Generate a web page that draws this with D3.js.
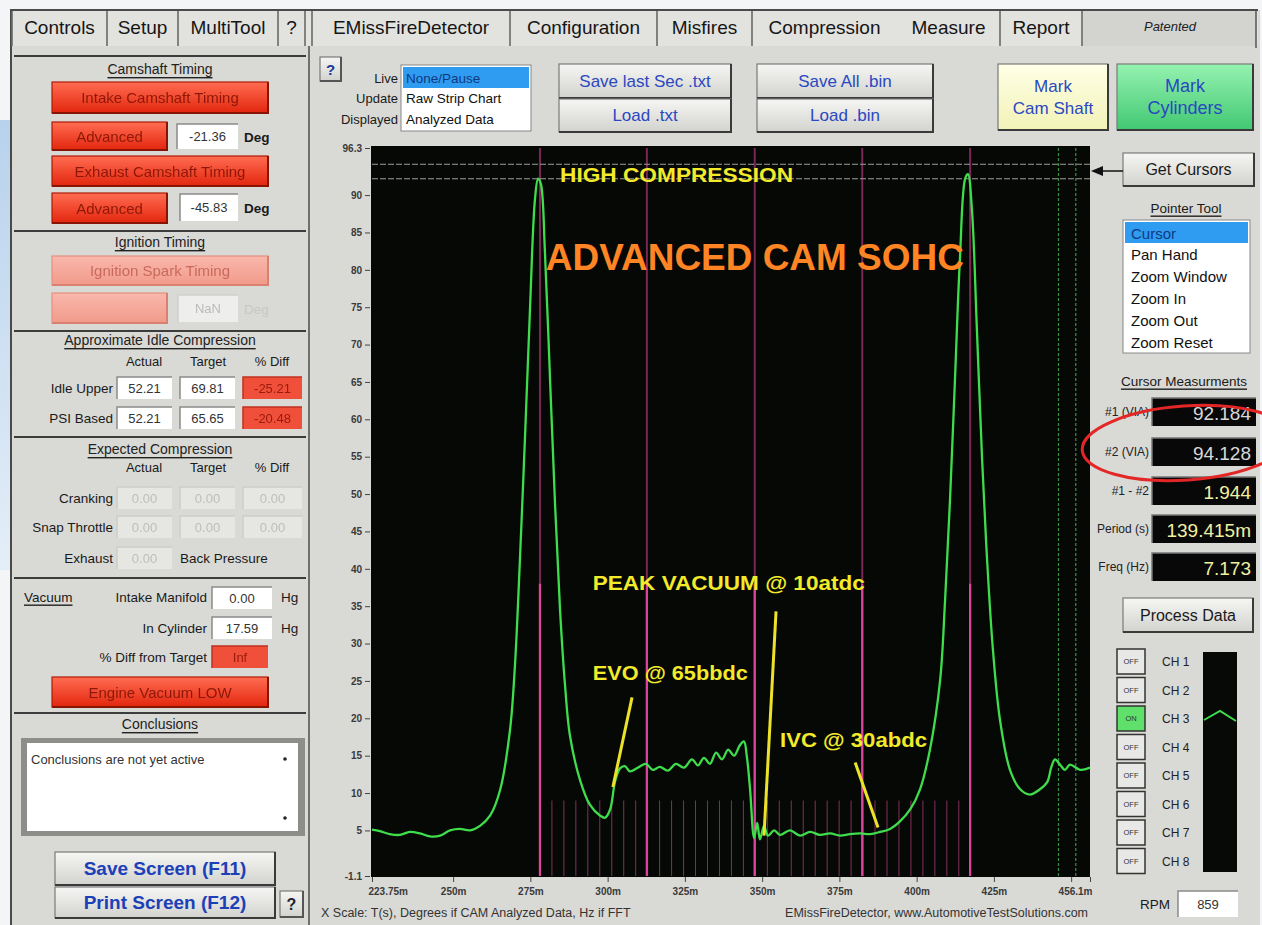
<!DOCTYPE html>
<html lang="en">
<head>
<meta charset="utf-8">
<title>EMissFireDetector - Measure</title>
<script src="https://d3js.org/d3.v7.min.js"></script>
<style>
  body { margin: 0; background: #f4f5f7; overflow: hidden; }
  svg { display: block; font-family: 'Liberation Sans', Arial, sans-serif; }
</style>
</head>
<body>
<svg id="screen" width="1262" height="925"></svg>
<script>
// ---------- data ----------
var tabsLeft = ["Controls", "Setup", "MultiTool", "?"];
var tabsRight = ["EMissFireDetector", "Configuration", "Misfires", "Compression", "Measure", "Report"];

var yTicks = [5, 10, 15, 20, 25, 30, 35, 40, 45, 50, 55, 60, 65, 70, 75, 80, 85, 90];
var yMin = -1.1, yMax = 96.3;
var xTicks = [250, 275, 300, 325, 350, 375, 400, 425, 450];
var xMin = 223.75, xMax = 456.1;

// pressure trace: time (ms) and value (psi)
var traceTime = [223.75, 226.3, 229.5, 232.8, 236.0, 239.3, 242.5, 245.8, 249.0, 252.2, 255.5, 258.7,
  262.0, 265.2, 268.4, 270.0, 271.6, 273.3, 274.9, 276.5, 277.5, 278.4, 279.7, 281.4, 283.0, 284.6,
  286.2, 287.8, 291.1, 294.3, 297.5, 299.2, 300.8, 302.4, 304.0, 305.6, 307.2, 309.8, 312.4, 314.6,
  316.9, 319.5, 322.1, 324.7, 327.3, 329.2, 331.2, 333.1, 335.1, 337.0, 339.0, 340.9, 342.8, 344.1,
  345.1, 346.1, 347.4, 348.4, 349.3, 350.6, 351.9, 353.9, 355.8, 359.0, 362.3, 365.5, 368.7, 372.0,
  375.2, 378.4, 381.7, 385.0, 388.2, 391.4, 394.6, 397.9, 401.1, 404.3, 407.6, 409.2, 410.8, 412.4,
  414.0, 415.7, 416.6, 417.9, 419.5, 421.2, 422.8, 424.7, 427.0, 430.2, 433.5, 436.7, 439.9, 442.3,
  443.6, 444.8, 446.4, 448.0, 449.6, 452.9, 456.1];
var tracePsi = [5.1, 4.9, 4.5, 4.4, 4.8, 4.6, 4.2, 4.3, 5.0, 5.2, 5.0, 5.6,
  7.0, 10.4, 18.4, 27.0, 41.0, 58.0, 75.0, 89.5, 92.2, 91.5, 82.5, 65.0, 48.5, 34.5,
  24.5, 17.7, 11.7, 8.4, 7.0, 6.7, 7.8, 11.5, 13.3, 13.6, 12.9, 13.4, 13.9, 13.1,
  13.5, 13.0, 13.9, 13.4, 14.5, 13.7, 14.7, 13.9, 15.4, 14.5, 15.8, 15.0, 16.4, 16.9,
  14.7, 10.5, 4.0, 6.0, 3.8, 5.6, 4.3, 5.0, 4.4, 5.0, 4.3, 4.8, 4.4, 4.6,
  4.3, 4.5, 4.6, 4.5, 4.8, 5.2, 6.2, 7.8, 10.5, 15.8, 25.1, 35.8, 49.2, 65.3,
  81.4, 92.2, 92.8, 88.0, 72.0, 54.5, 41.2, 29.1, 19.7, 13.1, 10.5, 9.8, 10.5, 11.5,
  13.5, 14.5, 13.8, 13.1, 13.8, 13.1, 13.4];

var cylinderMarks = [278.1, 312.7, 347.6, 382.4, 417.3];   // ms
var cyclePeriod = 139.415;                                  // ms per 720 deg
var degreeStep = 20;                                        // crank degrees between minor marks
var cursorLevels = [92.184, 94.128];
var cursorTimes = [445.9, 451.5];

var annotations = [
  { text: "HIGH COMPRESSION", t: 284.6, v: 92.7, kind: "small" },
  { text: "ADVANCED CAM SOHC", t: 280.0, v: 81.6, kind: "title" },
  { text: "PEAK VACUUM @ 10atdc", t: 295.2, v: 38.1, kind: "small" },
  { text: "EVO @ 65bbdc", t: 295.2, v: 26.1, kind: "small" },
  { text: "IVC @ 30abdc", t: 355.8, v: 17.1, kind: "small" }
];
var annotationWidths = [233, 418, 272, 155, 147];
// pointer lines: [t1, v1, t2, v2]
var pointers = [[307.9, 22.8, 301.7, 10.8], [354.5, 34.3, 350.6, 4.3], [380.1, 14.1, 387.5, 5.4]];

var liveModes = ["None/Pause", "Raw Strip Chart", "Analyzed Data"];
var pointerTools = ["Cursor", "Pan Hand", "Zoom Window", "Zoom In", "Zoom Out", "Zoom Reset"];
var measLabels = ["#1 (VIA)", "#2 (VIA)", "#1 - #2", "Period (s)", "Freq (Hz)"];
var measValues = ["92.184", "94.128", "1.944", "139.415m", "7.173"];
var channels = ["CH 1", "CH 2", "CH 3", "CH 4", "CH 5", "CH 6", "CH 7", "CH 8"];
var channelOn = [false, false, true, false, false, false, false, false];

var idleRows = ["Idle Upper", "PSI Based"];
var idleActual = ["52.21", "52.21"];
var idleTarget = ["69.81", "65.65"];
var idleDiff = ["-25.21", "-20.48"];
var expectedRows = ["Cranking", "Snap Throttle"];

// ---------- helpers ----------
var svg = d3.select("#screen");
var defs = svg.append("defs");

function grad(id, top, bottom) {
  var g = defs.append("linearGradient").attr("id", id)
    .attr("x1", 0).attr("y1", 0).attr("x2", 0).attr("y2", 1);
  g.append("stop").attr("offset", "0%").attr("stop-color", top);
  g.append("stop").attr("offset", "100%").attr("stop-color", bottom);
}
grad("btnGray", "#f6f6f4", "#d2d2ce");
grad("btnRed", "#ff6d52", "#e3260e");
grad("btnPink", "#f9b8ac", "#f19a8a");
grad("btnYellow", "#ffffe6", "#f2f2b8");
grad("btnGreen", "#95f2b0", "#41c872");
grad("desk", "#b8d2ec", "#e4eef8");
defs.append("filter").attr("id", "soft")
  .append("feGaussianBlur").attr("stdDeviation", 0.7);

function txt(parent, x, y, s, o) {
  o = o || {};
  return parent.append("text").attr("x", x).attr("y", y)
    .attr("text-anchor", o.anchor || "start")
    .attr("dominant-baseline", "central")
    .attr("font-size", o.size || 13.5)
    .attr("font-weight", o.weight || "normal")
    .attr("font-style", o.style || "normal")
    .attr("fill", o.color || "#1a1a1a")
    .attr("opacity", o.opacity == null ? 1 : o.opacity)
    .attr("text-decoration", o.underline ? "underline" : null)
    .attr("filter", o.blur ? "url(#soft)" : null)
    .text(s);
}

function button(x, y, w, h, label, o) {
  o = o || {};
  var g = svg.append("g");
  g.append("rect").attr("x", x).attr("y", y).attr("width", w).attr("height", h)
    .attr("fill", "url(#" + (o.fill || "btnGray") + ")")
    .attr("stroke", o.stroke || "#7a7a7a").attr("stroke-width", 1.2);
  g.append("path").attr("d", "M" + (x + w) + "," + y + "V" + (y + h) + "H" + x)
    .attr("fill", "none").attr("stroke", o.edge || "#3a3a3a").attr("stroke-width", 2);
  var lines = label.split("\n");
  lines.forEach(function(t, i) {
    txt(g, x + w / 2, y + h / 2 + (i - (lines.length - 1) / 2) * (o.lh || 21), t, {
      anchor: "middle", size: o.size || 16, weight: o.weight, color: o.color || "#1a1a1a",
      blur: o.blur, opacity: o.opacity
    });
  });
  return g;
}

function field(x, y, w, h, val, o) {
  o = o || {};
  var g = svg.append("g");
  g.append("rect").attr("x", x).attr("y", y).attr("width", w).attr("height", h)
    .attr("fill", o.fill || "#ffffff");
  g.append("path").attr("d", "M" + x + "," + (y + h) + "V" + y + "H" + (x + w))
    .attr("fill", "none").attr("stroke", o.edge || "#8a8a8a").attr("stroke-width", 1.5);
  txt(g, x + w / 2, y + h / 2, val, {
    anchor: "middle", size: o.size || 13, color: o.color || "#333", blur: o.blur, opacity: o.opacity
  });
  return g;
}

function sep(x1, x2, y) {
  svg.append("line").attr("x1", x1).attr("x2", x2).attr("y1", y).attr("y2", y)
    .attr("stroke", "#3c3c3c").attr("stroke-width", 2);
}

// ---------- window frame ----------
svg.append("rect").attr("x", 0).attr("y", 120).attr("width", 11).attr("height", 450).attr("fill", "url(#desk)");
svg.append("rect").attr("x", 10).attr("y", 10).attr("width", 1250).attr("height", 915).attr("fill", "#d9d9d5");
svg.append("rect").attr("x", 10).attr("y", 10).attr("width", 1248).attr("height", 36).attr("fill", "#e2e2df");
svg.append("rect").attr("x", 1082).attr("y", 10).attr("width", 174).attr("height", 36).attr("fill", "#d3d3cf");
svg.append("line").attr("x1", 10).attr("x2", 1258).attr("y1", 10).attr("y2", 10).attr("stroke", "#4a4a4a").attr("stroke-width", 2);
svg.append("line").attr("x1", 11).attr("x2", 11).attr("y1", 10).attr("y2", 925).attr("stroke", "#4a4a4a").attr("stroke-width", 2);
svg.append("line").attr("x1", 1256).attr("x2", 1256).attr("y1", 10).attr("y2", 48).attr("stroke", "#555").attr("stroke-width", 1.5);

// tabs
var tabEdgesLeft = [12, 107, 178, 278, 305];
var tabEdgesRight = [312, 510, 657, 752, 897, 1000, 1082];
function drawTabs(names, edges) {
  names.forEach(function(n, i) {
    txt(svg, (edges[i] + edges[i + 1]) / 2, 27, n, { anchor: "middle", size: 19, color: "#151515" });
  });
  edges.forEach(function(e) {
    if (e === 897) return;
    svg.append("line").attr("x1", e).attr("x2", e).attr("y1", 11).attr("y2", 46)
      .attr("stroke", "#6a6a6a").attr("stroke-width", 1.6);
  });
}
drawTabs(tabsLeft, tabEdgesLeft);
drawTabs(tabsRight, tabEdgesRight);
txt(svg, 1170, 26, "Patented", { anchor: "middle", size: 13, style: "italic", color: "#222" });

// ---------- left panel ----------
svg.append("line").attr("x1", 309).attr("x2", 309).attr("y1", 46).attr("y2", 925).attr("stroke", "#555").attr("stroke-width", 1.6);
[56, 231, 331, 437, 578, 713].forEach(function(y) { sep(14, 306, y); });

var head = { anchor: "middle", size: 14, underline: true, color: "#222" };
txt(svg, 160, 69, "Camshaft Timing", head);
txt(svg, 160, 242, "Ignition Timing", head);
txt(svg, 160, 340, "Approximate Idle Compression", head);
txt(svg, 160, 449, "Expected Compression", head);
txt(svg, 160, 724, "Conclusions", head);

var redText = { fill: "btnRed", stroke: "#b01a06", edge: "#8a1404", color: "#8e1808", blur: true, size: 15 };
button(52, 82, 216, 31, "Intake Camshaft Timing", redText);
button(52, 122, 115, 28, "Advanced", redText);
button(52, 156, 216, 30, "Exhaust Camshaft Timing", redText);
button(52, 193, 115, 30, "Advanced", redText);
field(177, 124, 61, 25, "-21.36");
field(180, 194, 58, 27, "-45.83");
txt(svg, 244, 137, "Deg", { size: 13.5, weight: "bold" });
txt(svg, 244, 208, "Deg", { size: 13.5, weight: "bold" });

var pinkText = { fill: "btnPink", stroke: "#e59080", edge: "#d98070", color: "#c96a5c", blur: true, size: 15 };
button(52, 256, 216, 29, "Ignition Spark Timing", pinkText);
button(52, 293, 115, 30, "", pinkText);
field(178, 295, 60, 27, "NaN", { fill: "#eeeeec", edge: "#cfcfcc", color: "#bbb", blur: true });
txt(svg, 244, 309, "Deg", { size: 13.5, color: "#c8c8c8" });

// idle compression
var colX = [144, 208, 272];
["Actual", "Target", "% Diff"].forEach(function(h, i) {
  txt(svg, colX[i], 361, h, { anchor: "middle", size: 13 });
  txt(svg, colX[i], 467, h, { anchor: "middle", size: 13 });
});
idleRows.forEach(function(r, i) {
  var y = 377 + i * 30;
  txt(svg, 113, y + 11, r, { anchor: "end", size: 13.5 });
  field(117, y, 55, 22, idleActual[i]);
  field(180, y, 55, 22, idleTarget[i]);
  field(243, y, 59, 22, idleDiff[i], { fill: "#f0503a", edge: "#c03020", color: "#9a1a0c", blur: true });
});
expectedRows.forEach(function(r, i) {
  var y = 487 + i * 29;
  txt(svg, 113, y + 11, r, { anchor: "end", size: 13.5 });
  [117, 180, 243].forEach(function(x) {
    field(x, y, x === 243 ? 59 : 55, 22, "0.00", { fill: "#e6e6e3", edge: "#cdcdca", color: "#bdbdbd", blur: true });
  });
});
txt(svg, 113, 558, "Exhaust", { anchor: "end", size: 13.5 });
field(117, 547, 55, 22, "0.00", { fill: "#e6e6e3", edge: "#cdcdca", color: "#bdbdbd", blur: true });
txt(svg, 180, 558, "Back Pressure", { size: 13.5 });

// vacuum
txt(svg, 24, 597, "Vacuum", { size: 13.5, underline: true });
txt(svg, 207, 597, "Intake Manifold", { anchor: "end", size: 13.5 });
field(212, 587, 60, 22, "0.00");
txt(svg, 281, 597, "Hg", { size: 13.5 });
txt(svg, 207, 628, "In Cylinder", { anchor: "end", size: 13.5 });
field(212, 617, 60, 22, "17.59");
txt(svg, 281, 628, "Hg", { size: 13.5 });
txt(svg, 207, 657, "% Diff from Target", { anchor: "end", size: 13.5 });
field(212, 646, 56, 22, "Inf", { fill: "#f0503a", edge: "#c03020", color: "#9a1a0c", blur: true });
button(52, 677, 216, 30, "Engine Vacuum LOW", redText);

// conclusions
svg.append("rect").attr("x", 21).attr("y", 738).attr("width", 284).attr("height", 98)
  .attr("fill", "#8d8d8a");
svg.append("rect").attr("x", 27).attr("y", 743).attr("width", 271).attr("height", 88).attr("fill", "#fff");
txt(svg, 31, 759, "Conclusions are not yet active", { size: 13, color: "#333" });
svg.append("circle").attr("cx", 285).attr("cy", 759).attr("r", 1.8).attr("fill", "#222");
svg.append("circle").attr("cx", 285).attr("cy", 818).attr("r", 1.8).attr("fill", "#222");

var blueBold = { size: 19, weight: "bold", color: "#1c40b8" };
button(55, 852, 220, 33, "Save Screen (F11)", blueBold);
button(55, 887, 220, 31, "Print Screen (F12)", blueBold);
button(280, 891, 23, 26, "?", { size: 16, weight: "bold", color: "#223", edge: "#555" });

// ---------- chart toolbar ----------
button(320, 57, 21, 24, "?", { size: 15, weight: "bold", color: "#1c3a9a", fill: "btnGray", edge: "#555" });
["Live", "Update", "Displayed"].forEach(function(s, i) {
  txt(svg, 398, 78 + i * 20.5, s, { anchor: "end", size: 13 });
});
svg.append("rect").attr("x", 401).attr("y", 65).attr("width", 130).attr("height", 66).attr("fill", "#fff")
  .attr("stroke", "#888");
svg.append("rect").attr("x", 403).attr("y", 67).attr("width", 126).attr("height", 21).attr("fill", "#2f9cf2");
liveModes.forEach(function(s, i) {
  txt(svg, 406, 78 + i * 20.5, s, { size: 13.5, color: i === 0 ? "#103a80" : "#111" });
});

var blueBtn = { size: 17, color: "#2a48c0" };
button(559, 64, 172, 34, "Save last Sec .txt", blueBtn);
button(559, 99, 172, 33, "Load .txt", blueBtn);
button(757, 64, 176, 34, "Save All .bin", blueBtn);
button(757, 99, 176, 33, "Load .bin", blueBtn);
button(998, 64, 110, 66, "Mark\nCam Shaft", { fill: "btnYellow", size: 17, color: "#2a48c0", lh: 22 });
button(1117, 64, 136, 66, "Mark\nCylinders", { fill: "btnGreen", size: 18, color: "#2a48c0", lh: 22 });

// ---------- chart ----------
var plot = { left: 372, right: 1090, top: 148, bottom: 876 };
var x = d3.scaleLinear().domain([xMin, xMax]).range([plot.left, plot.right]);
var y = d3.scaleLinear().domain([yMin, yMax]).range([plot.bottom, plot.top]);

svg.append("rect").attr("x", plot.left - 1).attr("y", plot.top - 2)
  .attr("width", plot.right - plot.left + 1).attr("height", plot.bottom - plot.top + 3)
  .attr("fill", "#050805");

var chart = svg.append("g");

// minor crank-degree marks between cylinder marks
var minorMarks = [];
for (var t = cylinderMarks[0]; t <= cylinderMarks[cylinderMarks.length - 1] + 0.1; t += cyclePeriod * degreeStep / 720) {
  minorMarks.push(t);
}
chart.selectAll(".minor").data(minorMarks).enter().append("line")
  .attr("x1", function(d) { return x(d); }).attr("x2", function(d) { return x(d); })
  .attr("y1", y(9)).attr("y2", plot.bottom)
  .attr("stroke", "#b8407e").attr("stroke-width", 1).attr("opacity", 0.7);

// cylinder marks: dim full height, bright lower part
chart.selectAll(".cylDim").data(cylinderMarks).enter().append("line")
  .attr("x1", function(d) { return x(d); }).attr("x2", function(d) { return x(d); })
  .attr("y1", plot.top).attr("y2", plot.bottom)
  .attr("stroke", "#7c2658").attr("stroke-width", 2);
chart.selectAll(".cylBright").data(cylinderMarks).enter().append("line")
  .attr("x1", function(d) { return x(d); }).attr("x2", function(d) { return x(d); })
  .attr("y1", y(38)).attr("y2", plot.bottom)
  .attr("stroke", "#e0439e").attr("stroke-width", 2.2);

// cursors
chart.selectAll(".hcur").data(cursorLevels).enter().append("line")
  .attr("x1", plot.left).attr("x2", plot.right)
  .attr("y1", function(d) { return y(d); }).attr("y2", function(d) { return y(d); })
  .attr("stroke", "#9a9a9a").attr("stroke-width", 1.2).attr("stroke-dasharray", "6,2");
chart.selectAll(".vcur").data(cursorTimes).enter().append("line")
  .attr("x1", function(d) { return x(d); }).attr("x2", function(d) { return x(d); })
  .attr("y1", plot.top).attr("y2", plot.bottom)
  .attr("stroke", "#3e8f46").attr("stroke-width", 1.2).attr("stroke-dasharray", "3,2");

// trace
var trace = traceTime.map(function(t, i) { return [t, tracePsi[i]]; });
chart.append("path").datum(trace)
  .attr("fill", "none").attr("stroke", "#3fdc4c").attr("stroke-width", 2.3)
  .attr("stroke-linejoin", "round")
  .attr("d", d3.line().x(function(d) { return x(d[0]); }).y(function(d) { return y(d[1]); })
    .curve(d3.curveCatmullRom.alpha(0.5)));

// annotations
chart.selectAll(".ptr").data(pointers).enter().append("line")
  .attr("x1", function(d) { return x(d[0]); }).attr("y1", function(d) { return y(d[1]); })
  .attr("x2", function(d) { return x(d[2]); }).attr("y2", function(d) { return y(d[3]); })
  .attr("stroke", "#ece22a").attr("stroke-width", 3);
annotations.forEach(function(a, i) {
  var big = a.kind === "title";
  chart.append("text").attr("x", x(a.t)).attr("y", y(a.v))
    .attr("font-size", big ? 37 : 19.5).attr("font-weight", "bold")
    .attr("fill", big ? "#ff8424" : "#f2ea2a")
    .attr("dominant-baseline", "central")
    .attr("textLength", annotationWidths[i]).attr("lengthAdjust", "spacingAndGlyphs")
    .text(a.text);
});

// axes
var axisFont = "'Liberation Sans', Arial, sans-serif";
var yAxis = svg.append("g").attr("transform", "translate(" + (plot.left - 2) + ",0)")
  .call(d3.axisLeft(y).tickValues([yMin].concat(yTicks).concat([yMax])).tickSize(5).tickPadding(3)
    .tickFormat(function(d) { return d === yMin ? "-1.1" : d === yMax ? "96.3" : d; }));
yAxis.select(".domain").remove();
yAxis.selectAll("text").attr("font-size", 10).attr("font-weight", "bold").attr("fill", "#3a3a3a")
  .attr("font-family", axisFont);
yAxis.selectAll("line").attr("stroke", "#444");

var xAxis = svg.append("g").attr("transform", "translate(0," + (plot.bottom + 1) + ")")
  .call(d3.axisBottom(x).tickValues([xMin].concat(xTicks).concat([xMax])).tickSize(5).tickPadding(6)
    .tickFormat(function(d) { return d === 450 ? "" : d + "m"; }));
xAxis.select(".domain").remove();
xAxis.selectAll("text").attr("font-size", 10).attr("font-weight", "bold").attr("fill", "#3a3a3a")
  .attr("font-family", axisFont);
xAxis.selectAll("line").attr("stroke", "#444");
xAxis.selectAll(".tick").filter(function(d) { return d === xMin; }).select("text").attr("text-anchor", "start").attr("x", -4);
xAxis.selectAll(".tick").filter(function(d) { return d === xMax; }).select("text").attr("text-anchor", "end").attr("x", 2);

txt(svg, 321, 913, "X Scale: T(s), Degrees if CAM Analyzed Data, Hz if FFT", { size: 12.5, color: "#333" });
txt(svg, 1088, 913, "EMissFireDetector, www.AutomotiveTestSolutions.com", { anchor: "end", size: 12.5, color: "#333" });

// ---------- right panel ----------
button(1123, 153, 131, 33, "Get Cursors", { size: 16 });
svg.append("line").attr("x1", 1123).attr("x2", 1100).attr("y1", 171).attr("y2", 171).attr("stroke", "#111").attr("stroke-width", 1.5);
svg.append("path").attr("d", "M1091,171 L1103,166 L1103,176 Z").attr("fill", "#111");

txt(svg, 1186, 208, "Pointer Tool", { anchor: "middle", size: 13.5, underline: true });
svg.append("rect").attr("x", 1123).attr("y", 220).attr("width", 127).attr("height", 133)
  .attr("fill", "#fff").attr("stroke", "#888");
svg.append("rect").attr("x", 1125).attr("y", 222).attr("width", 123).attr("height", 21).attr("fill", "#2f9cf2");
pointerTools.forEach(function(s, i) {
  txt(svg, 1131, 233 + i * 21.8, s, { size: 15, color: i === 0 ? "#103a80" : "#111" });
});

txt(svg, 1184, 381, "Cursor Measurments", { anchor: "middle", size: 13.5, underline: true });
var measY = [398, 438, 477, 515, 553];
measLabels.forEach(function(s, i) {
  var yy = measY[i];
  txt(svg, 1149, yy + 14, s, { anchor: "end", size: 12, color: "#222" });
  svg.append("rect").attr("x", 1152).attr("y", yy).attr("width", 104).attr("height", 28).attr("fill", "#080808");
  svg.append("path").attr("d", "M1152," + (yy + 28) + "V" + yy + "H1256").attr("fill", "none")
    .attr("stroke", "#777").attr("stroke-width", 1.5);
  txt(svg, 1251, yy + 15, measValues[i], {
    anchor: "end", size: 19, color: i < 2 ? "#d8d8d8" : "#f2f0a0"
  });
});
svg.append("ellipse").attr("cx", 1186).attr("cy", 443).attr("rx", 104).attr("ry", 37)
  .attr("transform", "rotate(-4,1186,443)")
  .attr("fill", "none").attr("stroke", "#e32626").attr("stroke-width", 3);

button(1123, 598, 130, 34, "Process Data", { size: 16 });

channels.forEach(function(c, i) {
  var yy = 649 + i * 28.5;
  svg.append("rect").attr("x", 1117).attr("y", yy).attr("width", 28).attr("height", 25)
    .attr("fill", channelOn[i] ? "#5fe06a" : "#e8e8e6").attr("stroke", "#333").attr("stroke-width", 1.5);
  txt(svg, 1131, yy + 12.5, channelOn[i] ? "ON" : "OFF", { anchor: "middle", size: 7.5, color: "#333" });
  txt(svg, 1162, yy + 13, c, { size: 12, color: "#222" });
});
svg.append("rect").attr("x", 1203).attr("y", 652).attr("width", 34).attr("height", 220).attr("fill", "#070907");
svg.append("path").attr("d", "M1204,720 L1220,711 L1236,721").attr("fill", "none")
  .attr("stroke", "#3fdc4c").attr("stroke-width", 2);

txt(svg, 1155, 904, "RPM", { anchor: "middle", size: 13.5 });
field(1178, 891, 60, 26, "859", { size: 13 });
</script>
</body>
</html>
